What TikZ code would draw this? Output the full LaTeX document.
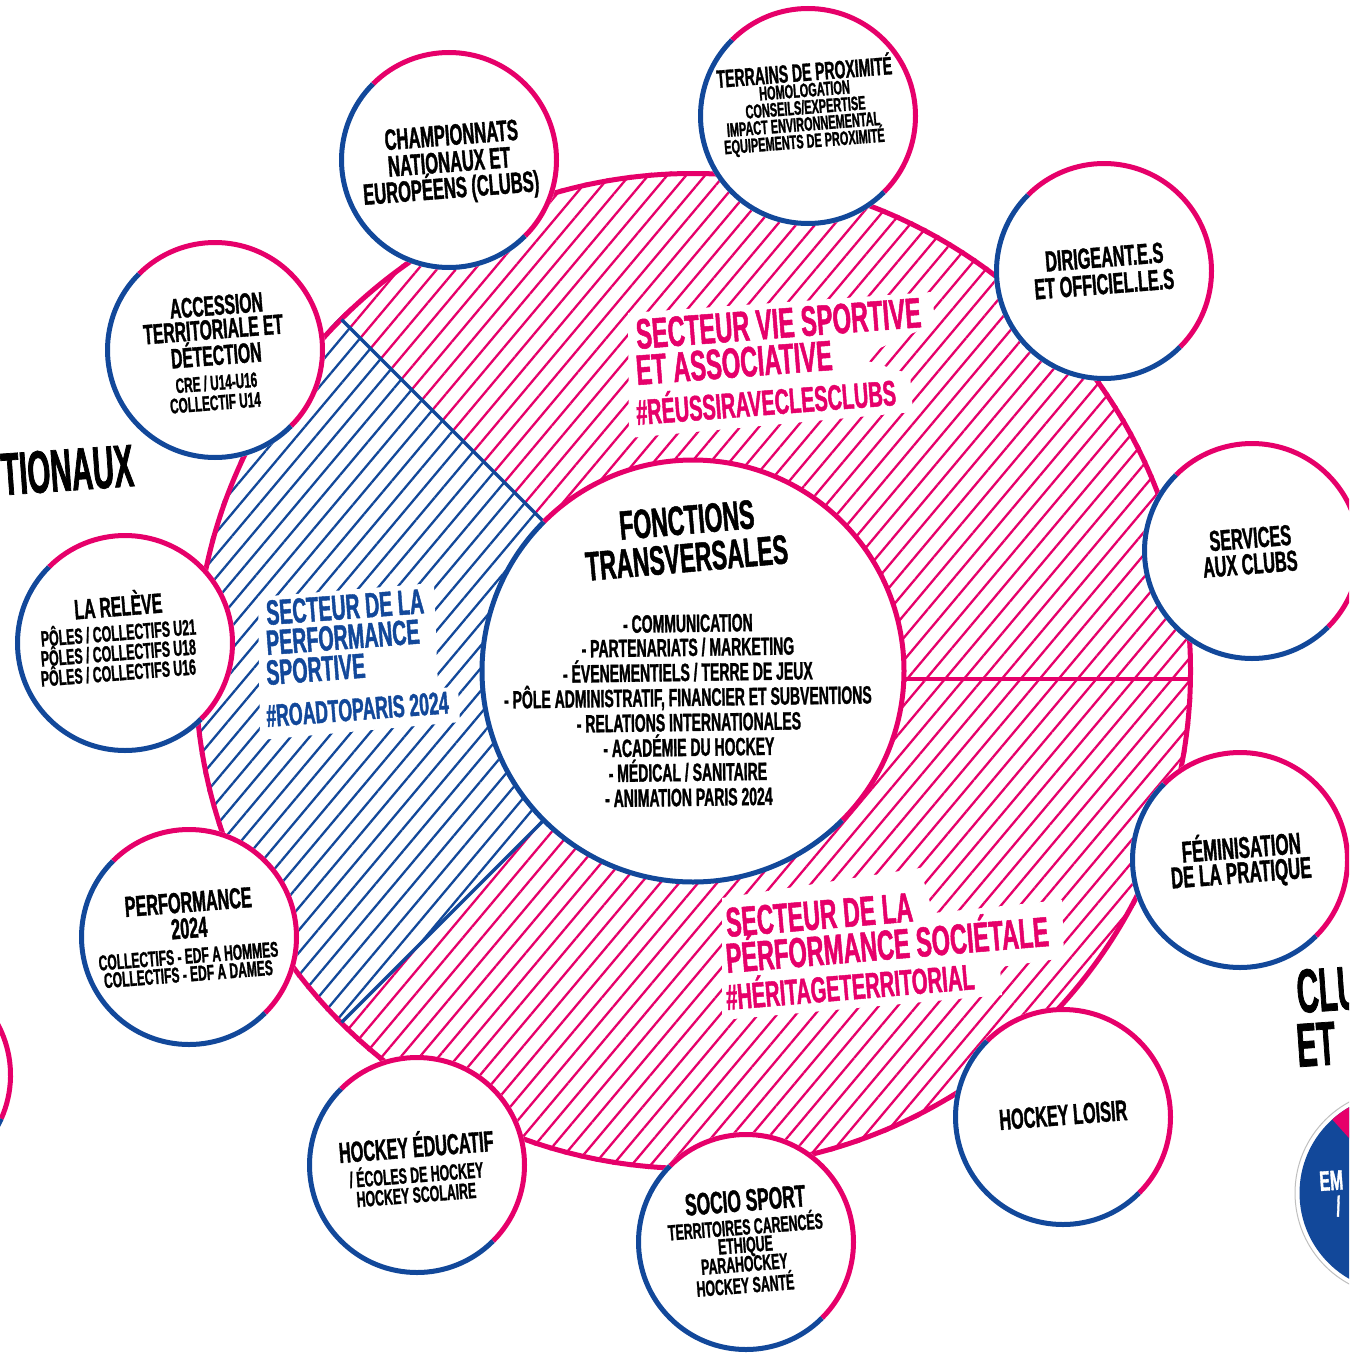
\documentclass[tikz,border=0pt]{standalone}
\usepackage{fontspec}
\newfontfamily\cf[FakeStretch=0.56,FakeBold=1.2]{Liberation Sans}
\newfontfamily\cfn[FakeStretch=0.49,FakeBold=1.2]{Liberation Sans}
\usetikzlibrary{patterns.meta}
\definecolor{pinkc}{HTML}{E6006A}
\definecolor{bluec}{HTML}{12489A}
\newcommand\fs[1]{\cf\bfseries\fontsize{#1}{#1}\selectfont}
\newcommand\fsn[1]{\cfn\bfseries\fontsize{#1}{#1}\selectfont}
\tikzset{
  sat/.style={circle, fill=white, minimum size=220pt, inner sep=0pt},
  pk/.style={draw=pinkc, line width=5pt},
  bl/.style={draw=bluec, line width=5pt},
  tx/.style={inner sep=0pt, anchor=base, rotate=4.5, text=black},
  lbl/.style={inner sep=0pt, anchor=base west},
}
\newcommand\satel[3]{%
  \node[sat] (#1) at (#2,#3) {};
  \draw[pk] ([shift={(#1.center)}]-45:107.5) arc[start angle=-45,end angle=135,radius=107.5];
  \draw[bl] ([shift={(#1.center)}]135:107.5) arc[start angle=135,end angle=315,radius=107.5];}
\begin{document}
\begin{tikzpicture}[x=1pt,y=1pt]
\useasboundingbox (0,0) rectangle (1349,-1354);
\clip (0,0) rectangle (1349,-1354);
\fill[white] (0,0) rectangle (1349,-1354);
\coordinate (O) at (693,-671);
% hatched sectors
\path[pattern={Lines[angle=50,distance=14.5pt,line width=2.3pt]}, pattern color=pinkc]
  ([shift={(O)}]135:500) arc[start angle=135,end angle=-135,radius=500]
  -- ([shift={(O)}]-135:213) arc[start angle=-135,end angle=135,radius=213] -- cycle;
\path[pattern={Lines[angle=50,distance=14.5pt,line width=2.3pt]}, pattern color=bluec]
  ([shift={(O)}]135:500) arc[start angle=135,end angle=225,radius=500]
  -- ([shift={(O)}]225:213) arc[start angle=225,end angle=135,radius=213] -- cycle;
\draw[pinkc, line width=5pt] (O) circle (497.5);
\draw[bluec, line width=3.5pt] ([shift={(O)}]135:213) -- ([shift={(O)}]135:497);
\draw[bluec, line width=3.5pt] ([shift={(O)}]225:213) -- ([shift={(O)}]225:497);
\draw[pinkc, line width=4pt] (904,-679) -- (1192,-679);
% core circle
\node[circle, fill=white, minimum size=426pt, inner sep=0pt] (core) at (O) {};
\draw[pk] ([shift={(core.center)}]-45:211) arc[start angle=-45,end angle=135,radius=211];
\draw[bl] ([shift={(core.center)}]135:211) arc[start angle=135,end angle=315,radius=211];
\node[tx, rotate=0.5, font=\fs{41}] (ft1) at (688,-534) {FONCTIONS};
\node[tx, rotate=0.5, font=\fs{41}] (ft2) at (688,-572) {TRANSVERSALES};
\begin{scope}[every node/.style={tx, rotate=-3.7, font=\fs{25}}]
\node (l1) at (688,-632) {- COMMUNICATION};
\node (l2) at (688,-656) {- PARTENARIATS / MARKETING};
\node (l3) at (688,-681) {- ÉVENEMENTIELS / TERRE DE JEUX};
\node (l4) at (688,-706) {- PÔLE ADMINISTRATIF, FINANCIER ET SUBVENTIONS};
\node (l5) at (689,-731) {- RELATIONS INTERNATIONALES};
\node (l6) at (689,-756) {- ACADÉMIE DU HOCKEY};
\node (l7) at (688,-781) {- MÉDICAL / SANITAIRE};
\node (l8) at (689,-806) {- ANIMATION PARIS 2024};
\end{scope}
% sector labels
\fill[white] (628,-313) -- (932,-292) -- (935,-323) -- (858,-358) -- (910,-374) -- (913,-412) -- (629,-438) -- cycle;
\node[lbl, rotate=4.4, text=pinkc, font=\fs{42.5}] (vs1) at (637,-349) {SECTEUR VIE SPORTIVE};
\node[lbl, rotate=4.4, text=pinkc, font=\fs{42.5}] (vs2) at (637,-385) {ET ASSOCIATIVE};
\node[lbl, rotate=4.4, text=pinkc, font=\fs{35.5}] (vs3) at (637,-425) {\#RÉUSSIRAVECLESCLUBS};
\fill[white] (258,-597) -- (434,-583) -- (438,-688) -- (458,-687) -- (460,-722) -- (260,-740) -- cycle;
\node[lbl, rotate=4.3, text=bluec, font=\fs{35}] (ps1) at (267,-625) {SECTEUR DE LA};
\node[lbl, rotate=4.3, text=bluec, font=\fs{35}] (ps2) at (267,-655) {PERFORMANCE};
\node[lbl, rotate=4.3, text=bluec, font=\fs{35}] (ps3) at (267,-685) {SPORTIVE};
\node[lbl, rotate=4.3, text=bluec, font=\fs{31.5}] (ps4) at (267,-727) {\#ROADTOPARIS 2024};
\fill[white] (722,-898) -- (920,-868) -- (933,-913) -- (1062,-900) -- (1064,-958) -- (1000,-967) -- (1002,-995) -- (722,-1020) -- cycle;
\node[lbl, rotate=4.8, text=pinkc, font=\fs{41.5}] (so1) at (727,-937) {SECTEUR DE LA};
\node[lbl, rotate=4.8, text=pinkc, font=\fs{42}] (so2) at (727,-973) {PÉRFORMANCE SOCIÉTALE};
\node[lbl, rotate=4.8, text=pinkc, font=\fs{36}] (so3) at (727,-1010) {\#HÉRITAGETERRITORIAL};
% satellites
\satel{terr}{808}{-116}
\node[tx, font=\fs{25}] (t1) at (805,-81) {TERRAINS DE PROXIMITÉ};
\node[tx, font=\fs{19.5}] (t2) at (805,-97) {HOMOLOGATION};
\node[tx, font=\fs{19.5}] (t3) at (806,-114) {CONSEILS/EXPERTISE};
\node[tx, font=\fs{19.5}] (t4) at (804,-131) {IMPACT ENVIRONNEMENTAL};
\node[tx, font=\fs{19.5}] (t5) at (805,-148) {EQUIPEMENTS DE PROXIMITÉ};
\satel{champ}{449}{-160}
\node[tx, font=\fs{29.5}] (c1) at (452,-145) {CHAMPIONNATS};
\node[tx, font=\fs{29.5}] (c2) at (450,-172) {NATIONAUX ET};
\node[tx, font=\fs{29.5}] (c3) at (452,-198) {EUROPÉENS (CLUBS)};
\satel{acc}{215}{-350}
\node[tx, font=\fs{28}] (a1) at (217,-315) {ACCESSION};
\node[tx, font=\fs{28}] (a2) at (214,-339) {TERRITORIALE ET};
\node[tx, font=\fs{28}] (a3) at (217,-365) {DÉTECTION};
\node[tx, font=\fs{21}] (a4) at (217,-390) {CRE / U14-U16};
\node[tx, font=\fs{21}] (a5) at (216,-410) {COLLECTIF U14};
\satel{rel}{125}{-643}
\node[tx, font=\fs{28}] (r1) at (119,-616) {LA RELÈVE};
\node[tx, font=\fs{22}] (r2) at (119,-640.5) {PÔLES / COLLECTIFS U21};
\node[tx, font=\fs{22}] (r3) at (119,-660.5) {PÔLES / COLLECTIFS U18};
\node[tx, font=\fs{22}] (r4) at (119,-680.5) {PÔLES / COLLECTIFS U16};
\satel{perf}{189}{-937}
\node[tx, font=\fs{29}] (p1) at (189,-912) {PERFORMANCE};
\node[tx, font=\fs{29}] (p2) at (190,-938) {2024};
\node[tx, font=\fs{21.5}] (p3) at (189,-963.5) {COLLECTIFS - EDF A HOMMES};
\node[tx, font=\fs{21.5}] (p4) at (189,-981.5) {COLLECTIFS - EDF A DAMES};
\satel{educ}{417}{-1165}
\node[tx, font=\fs{29}] (h1) at (417,-1157) {HOCKEY ÉDUCATIF};
\node[tx, font=\fs{22}] (h2) at (417,-1182.5) {/ ÉCOLES DE HOCKEY};
\node[tx, font=\fs{22}] (h3) at (417,-1202.5) {HOCKEY SCOLAIRE};
\satel{socio}{746}{-1242}
\node[tx, font=\fs{31}] (s1) at (746,-1211) {SOCIO SPORT};
\node[tx, font=\fs{22}] (s2) at (746,-1234.5) {TERRITOIRES CARENCÉS};
\node[tx, font=\fs{22}] (s3) at (746,-1252.5) {ETHIQUE};
\node[tx, font=\fs{22}] (s4) at (745,-1271.5) {PARAHOCKEY};
\node[tx, font=\fs{22}] (s5) at (746,-1293) {HOCKEY SANTÉ};
\satel{loisir}{1063}{-1117}
\node[tx, font=\fs{29}] (lo1) at (1064,-1125) {HOCKEY LOISIR};
\satel{fem}{1240}{-860}
\node[tx, font=\fs{30}] (f1) at (1242,-858) {FÉMINISATION};
\node[tx, font=\fs{30}] (f2) at (1242,-883) {DE LA PRATIQUE};
\satel{serv}{1252}{-551}
\node[tx, font=\fs{29}] (v1) at (1251,-548) {SERVICES};
\node[tx, font=\fs{29}] (v2) at (1251,-574) {AUX CLUBS};
\satel{dir}{1104}{-271}
\node[tx, font=\fs{29}] (d1) at (1105,-267) {DIRIGEANT.E.S};
\node[tx, font=\fs{29}] (d2) at (1105,-294) {ET OFFICIEL.LE.S};
% partial elements at the edges
\node[sat] (lp) at (-97,-1075) {};
\draw[pk] ([shift={(lp.center)}]-24:107.5) arc[start angle=-24,end angle=135,radius=107.5];
\draw[bl] ([shift={(lp.center)}]135:107.5) arc[start angle=135,end angle=336,radius=107.5];
\node[inner sep=0pt, anchor=base east, rotate=4, font=\fsn{60}] (tion) at (135,-486) {TIONAUX};
\node[inner sep=0pt, anchor=base west, rotate=4, font=\fsn{62}] (clu) at (1298,-1013) {CLU};
\node[inner sep=0pt, anchor=base west, rotate=4, font=\fsn{62}] (et) at (1298,-1067) {ET};
\node[circle, fill=white, draw=black!25, line width=1pt, minimum size=207pt, inner sep=0pt] (rb) at (1398.5,-1193) {};
\fill[bluec] (rb.center) circle (99);
\fill[pinkc] (rb.center) -- ([shift={(rb.center)}]132:99) arc[start angle=132,end angle=60,radius=99] -- cycle;
\node[inner sep=0pt, anchor=base west, rotate=4, text=white, font=\fs{28}] (em) at (1320,-1191) {EM};
\node[inner sep=0pt, anchor=base, rotate=4, text=white, font=\fs{28}] (sl) at (1339,-1216) {/};
\end{tikzpicture}
\end{document}
